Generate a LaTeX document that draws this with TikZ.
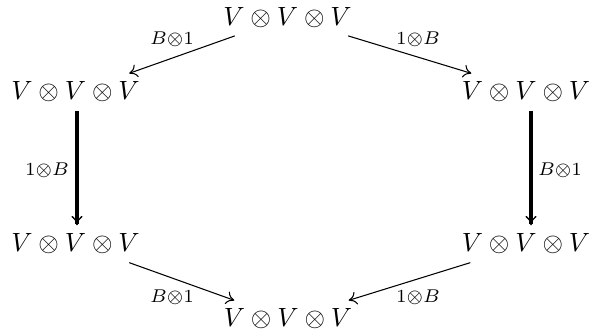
\documentclass[tikz,border=0pt]{standalone}
\usetikzlibrary{arrows.meta}
\newdimen\pxu \pxu=0.3788pt
\begin{document}
\begin{tikzpicture}[x=0.3788pt,y=-0.3788pt,
  obj/.style={inner xsep=0pt,inner ysep=8\pxu},
  lbl/.style={inner sep=0pt},
  thin arrow/.style={-{To[length=3pt,width=5pt]},line width=0.4pt},
  thick arrow/.style={-{To[length=3.6pt,width=4.2pt,line width=0.5pt]},line width=1.25pt}]
\useasboundingbox (0,0) rectangle (591,332);
\node[obj] (t)  at (287.5,17.25) {$V\otimes V\otimes V$};
\node[obj] (l1) at (75.5,92)    {$V\otimes V\otimes V$};
\node[obj] (r1) at (526,92)     {$V\otimes V\otimes V$};
\node[obj] (l2) at (75.5,244)   {$V\otimes V\otimes V$};
\node[obj] (r2) at (526,244)    {$V\otimes V\otimes V$};
\node[obj] (b)  at (288,319)    {$V\otimes V\otimes V$};
\draw[thin arrow] ([xshift=12\pxu]t.south west) -- ([xshift=-11\pxu]l1.north east);
\draw[thin arrow] ([xshift=-4\pxu]t.south east) -- ([xshift=10\pxu]r1.north west);
\draw[thick arrow] ([xshift=1.5\pxu]l1.south) -- ([xshift=1.5\pxu]l2.north);
\draw[thick arrow] ([xshift=5\pxu]r1.south) -- ([xshift=5\pxu]r2.north);
\draw[thin arrow] ([xshift=-11\pxu]l2.south east) -- ([xshift=11\pxu]b.north west);
\draw[thin arrow] ([xshift=9\pxu]r2.south west) -- ([xshift=-4\pxu]b.north east);
\node[lbl] (lt) at (172,39)  {$\scriptstyle B\otimes 1$};
\node[lbl] (lr) at (418,39)  {$\scriptstyle 1\otimes B$};
\node[lbl] (ll) at (47,170)  {$\scriptstyle 1\otimes B$};
\node[lbl] (lrr) at (560,170) {$\scriptstyle B\otimes 1$};
\node[lbl] (lbl2) at (172,297) {$\scriptstyle B\otimes 1$};
\node[lbl] (lbr) at (418,297) {$\scriptstyle 1\otimes B$};
\end{tikzpicture}
\end{document}
